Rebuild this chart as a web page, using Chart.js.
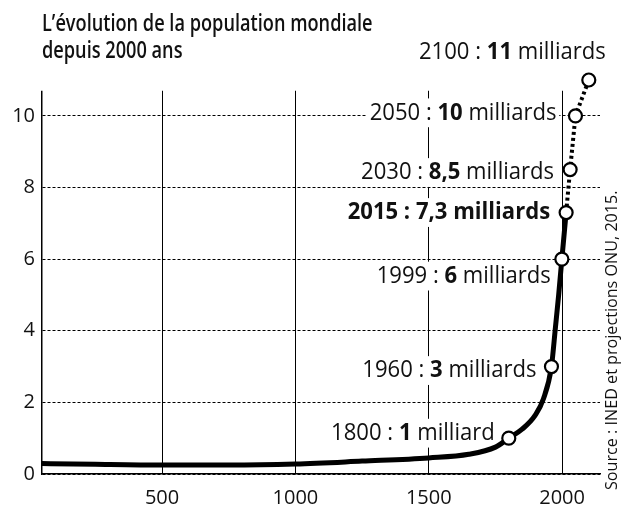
<!DOCTYPE html>
<html><head><meta charset="utf-8">
<script src="https://cdn.jsdelivr.net/npm/chart.js@4.4.0/dist/chart.umd.min.js"></script>
<style>html,body{margin:0;padding:0;background:#fff;}canvas{display:block;}</style>
</head><body>
<canvas id="c" width="622" height="526"></canvas>
<script>
// ---- data ----
const titleLines = ["L’évolution de la population mondiale", "depuis 2000 ans"];
const sourceText = "Source : INED et projections ONU, 2015.";
const historyYears = [0, 250, 500, 750, 1000, 1250, 1500, 1650, 1750, 1800, 1850, 1900, 1930, 1960, 1975, 1987, 1999, 2015];
const historyPop   = [0.3, 0.27, 0.25, 0.25, 0.28, 0.36, 0.45, 0.55, 0.75, 1, 1.25, 1.65, 2.1, 3, 4.1, 5, 6, 7.3];
const projectionYears = [2015, 2030, 2050, 2100];
const projectionPop   = [7.3, 8.5, 10, 11];
const milestoneYears = [1800, 1960, 1999, 2015, 2030, 2050, 2100];
const milestonePop   = [1, 3, 6, 7.3, 8.5, 10, 11];
const milestoneValueText = ["1", "3", "6", "7,3", "8,5", "10", "11"];
const milestoneUnitText  = ["milliard", "milliards", "milliards", "milliards", "milliards", "milliards", "milliards"];
const xTickValues = [500, 1000, 1500, 2000];
const yTickValues = [0, 2, 4, 6, 8, 10];
const gridTopValue = 10.7;

// ---- label placement (style only) ----
const labelStyle = [
  {dx: -14, dy: -5,  allBold: false},
  {dx: -15, dy: 4,   allBold: false},
  {dx: -11, dy: 17,  allBold: false},
  {dx: -16, dy: 0,   allBold: true},
  {dx: -16, dy: 3,   allBold: false},
  {dx: -19, dy: -3,  allBold: false},
  {dx: 17,  dy: -28, allBold: false}
];
const FONT = '"Open Sans", "Noto Sans", sans-serif';

function pts(xs, ys) { return xs.map((x, i) => ({x: x, y: ys[i]})); }

function drawParts(ctx, parts, rightX, cy, size, sx, bg) {
  const widths = parts.map(p => { ctx.font = p.w + ' ' + size + 'px ' + FONT; return ctx.measureText(p.t).width; });
  const nat = widths.reduce((a, b) => a + b, 0);
  ctx.save();
  ctx.translate(rightX - nat * sx, cy);
  ctx.scale(sx, 1);
  if (bg) { ctx.fillStyle = '#fff'; ctx.fillRect(-3, -size * 0.6, nat + 6, size * 1.2); }
  ctx.fillStyle = '#111';
  ctx.textBaseline = 'middle';
  ctx.textAlign = 'left';
  let x = 0;
  parts.forEach((p, i) => { ctx.font = p.w + ' ' + size + 'px ' + FONT; ctx.fillText(p.t, x, 0); x += widths[i]; });
  ctx.restore();
}

const annotations = {
  id: 'annotations',
  beforeDatasetsDraw(chart) {
    const ctx = chart.ctx, xs = chart.scales.x, ys = chart.scales.y, a = chart.chartArea;
    // grid lines start a little below the top of the plotting area
    const gTop = ys.getPixelForValue(gridTopValue);
    ctx.save(); ctx.fillStyle = '#fff'; ctx.fillRect(a.left - 2, a.top - 2, a.right - a.left + 4, gTop - a.top + 2); ctx.restore();
    milestoneYears.forEach((yr, i) => {
      const px = xs.getPixelForValue(yr), py = ys.getPixelForValue(milestonePop[i]);
      const st = labelStyle[i];
      const w0 = st.allBold ? '700' : '400';
      drawParts(ctx, [
        {t: yr + ' : ', w: w0},
        {t: milestoneValueText[i], w: '700'},
        {t: ' ' + milestoneUnitText[i], w: w0}
      ], px + st.dx, py + st.dy, 24, 0.92, true);
    });
  },
  afterDraw(chart) {
    const ctx = chart.ctx;
    ctx.save();
    ctx.fillStyle = '#111';
    ctx.textBaseline = 'alphabetic';
    ctx.font = '600 23px ' + FONT;
    titleLines.forEach((t, i) => {
      ctx.save(); ctx.translate(42, 31 + i * 27); ctx.scale(0.79, 1); ctx.fillText(t, 0, 0); ctx.restore();
    });
    ctx.font = '400 17px ' + FONT;
    ctx.translate(612, 490);
    ctx.rotate(-Math.PI / 2);
    ctx.textBaseline = 'middle';
    ctx.scale(0.95, 1);
    ctx.fillText(sourceText, 0, 0);
    ctx.restore();
  }
};

new Chart(document.getElementById('c'), {
  type: 'line',
  data: {
    datasets: [
      {
        label: 'Jalons', data: pts(milestoneYears, milestonePop), showLine: false,
        pointRadius: 6.5, pointBackgroundColor: '#fff', pointBorderColor: '#000', pointBorderWidth: 2.2,
        clip: false
      },
      {
        label: 'Population', data: pts(historyYears, historyPop), borderColor: '#000', borderWidth: 5,
        pointRadius: 0, cubicInterpolationMode: 'monotone'
      },
      {
        label: 'Projections', data: pts(projectionYears, projectionPop), borderColor: '#000', borderWidth: 4,
        borderDash: [3, 3], borderCapStyle: 'butt', pointRadius: 0, tension: 0, clip: false
      }
    ]
  },
  options: {
    responsive: false, animation: false, devicePixelRatio: 1,
    layout: {padding: {top: 80, right: 22, left: 0, bottom: 0}},
    plugins: {legend: {display: false}, tooltip: {enabled: false}, title: {display: false}},
    scales: {
      x: {
        type: 'linear', min: 50, max: 2142,
        afterBuildTicks: s => { s.ticks = xTickValues.map(v => ({value: v})); },
        afterFit: s => { s.height = 52; },
        grid: {color: '#000', lineWidth: 1, drawTicks: false},
        border: {color: '#000', width: 1.5},
        ticks: {color: '#111', padding: 12, maxRotation: 0, font: {family: FONT, size: 20}, callback: v => String(v)}
      },
      y: {
        min: 0, max: 11,
        afterBuildTicks: s => { s.ticks = yTickValues.map(v => ({value: v})); },
        afterFit: s => { s.width = 42; },
        grid: {color: '#000', lineWidth: 1, drawTicks: false},
        border: {color: '#000', width: 1.5, dash: [3, 2]},
        ticks: {color: '#111', padding: 7, font: {family: FONT, size: 20}, callback: v => String(v)}
      }
    }
  },
  plugins: [annotations]
});
</script>
</body></html>
